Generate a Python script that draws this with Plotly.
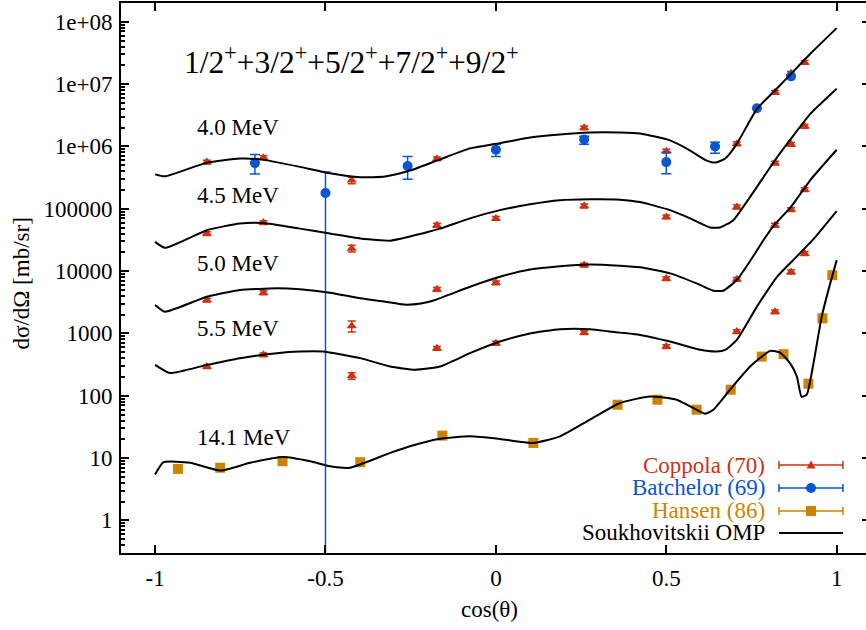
import math
import plotly.graph_objects as go

# ---------------- data ----------------
# Soukhovitskii OMP curves (scaled per energy)
c40_x = [-1.0, -0.971, -0.848, -0.751, -0.69, -0.575, -0.487, -0.398, -0.325, -0.252, -0.164, -0.076, 0.012, 0.10,
         0.188, 0.276, 0.364, 0.423, 0.511, 0.57, 0.614, 0.643, 0.673, 0.707, 0.766, 0.819, 0.866, 0.922, 1.0]
c40_y = [3.56e5, 3.31e5, 5.5e5, 6.4e5, 6.2e5, 4.7e5, 3.7e5, 3.2e5, 3.3e5, 4.1e5, 6.2e5, 9.3e5, 1.13e6, 1.39e6,
         1.56e6, 1.67e6, 1.67e6, 1.61e6, 1.25e6, 8.6e5, 6.1e5, 5.5e5, 6.4e5, 1.10e6, 4.0e6, 7.9e6, 1.46e7, 3.04e7, 7.9e7]

c45_x = [-1.0, -0.971, -0.848, -0.751, -0.683, -0.575, -0.487, -0.398, -0.34, -0.31, -0.252, -0.2, -0.164, -0.076,
         0.012, 0.10, 0.188, 0.276, 0.364, 0.423, 0.511, 0.57, 0.628, 0.657, 0.696, 0.746, 0.819, 0.866, 0.922, 1.0]
c45_y = [2.94e4, 2.36e4, 4.53e4, 5.8e4, 5.9e4, 4.8e4, 4.0e4, 3.33e4, 3.13e4, 3.08e4, 3.6e4, 4.24e4, 4.8e4, 7.0e4,
         9.5e4, 1.18e5, 1.37e5, 1.42e5, 1.40e5, 1.28e5, 9.5e4, 7.0e4, 5.0e4, 5.0e4, 6.5e4, 1.55e5, 6.0e5, 1.33e6,
         3.3e6, 8.4e6]

c50_x = [-1.0, -0.971, -0.848, -0.751, -0.643, -0.575, -0.487, -0.398, -0.325, -0.27, -0.22, -0.178, -0.076, 0.012,
         0.10, 0.188, 0.276, 0.364, 0.423, 0.511, 0.589, 0.638, 0.667, 0.707, 0.746, 0.785, 0.819, 0.866, 0.922, 1.0]
c50_y = [2.86e3, 2.23e3, 3.88e3, 4.97e3, 5.28e3, 5.1e3, 4.5e3, 3.66e3, 3.23e3, 2.9e3, 3.02e3, 3.44e3, 5.6e3, 8.1e3,
         1.06e4, 1.2e4, 1.28e4, 1.22e4, 1.15e4, 9.2e3, 6.35e3, 4.84e3, 4.84e3, 7.2e3, 1.45e4, 3.13e4, 5.65e4, 1.07e5,
         2.86e5, 8.85e5]

c55_x = [-1.0, -0.956, -0.848, -0.751, -0.643, -0.575, -0.508, -0.398, -0.31, -0.237, -0.164, -0.076, 0.012, 0.10,
         0.188, 0.276, 0.364, 0.423, 0.511, 0.599, 0.648, 0.673, 0.707, 0.766, 0.825, 0.884, 0.929, 1.0]
c55_y = [313, 231, 313, 401, 482, 512, 512, 401, 294, 261, 294, 482, 740, 1.0e3,
         1.17e3, 1.17e3, 1.03e3, 946, 740, 545, 512, 545, 787, 2.69e3, 8.1e3, 1.74e4, 3.13e4, 9.2e4]

c141_x = [-1.0, -0.975, -0.897, -0.809, -0.721, -0.624, -0.545, -0.487, -0.428, -0.31, -0.252, -0.164, -0.076, 0.012,
          0.109, 0.188, 0.276, 0.364, 0.452, 0.531, 0.614, 0.638, 0.687, 0.746, 0.805, 0.834, 0.863, 0.883, 0.897,
          0.912, 0.932, 0.956, 0.981, 1.0]
c141_y = [5.45, 8.6, 8.4, 6.3, 8.4, 10.4, 8.9, 7.4, 7.0, 12.1, 15.5, 20.5, 22.3, 20.3,
          17.5, 22.3, 41.3, 76.4, 97.5, 86.3, 51.5, 59.7, 125, 294, 525, 493, 334, 204, 96.4,
          104, 334, 1.86e3, 6.35e3, 1.5e4]

# Coppola (70) data
cop_x_40 = [-0.848, -0.682, -0.423, -0.173, 0.259, 0.5, 0.707, 0.819, 0.866, 0.906]
cop_y_40 = [5.6e5, 6.6e5, 2.86e5, 6.35e5, 1.99e6, 8.4e5, 1.1e6, 7.4e6, 1.49e7, 2.23e7]
cop_x = [-0.848, -0.682, -0.423, -0.173, 0.0, 0.259, 0.5, 0.707, 0.819, 0.866, 0.906]
cop_y_45 = [4.0e4, 6.0e4, 2.31e4, 5.45e4, 7.0e4, 1.11e5, 7.4e4, 1.07e5, 5.4e5, 1.08e6, 2.1e6]
cop_y_50 = [3.44e3, 4.5e3, 1.32e3, 5.1e3, 6.5e3, 1.25e4, 7.6e3, 7.4e3, 5.45e4, 9.7e4, 2.03e5]
cop_y_55 = [294, 453, 209, 579, 697, 1.03e3, 615, 1.07e3, 2.23e3, 9.7e3, 1.92e4]
cop_relerr_40 = [0.07, 0.07, 0.12, 0.07, 0.07, 0.07, 0.07, 0.07, 0.07, 0.07]
cop_relerr_45 = [0.07, 0.07, 0.12, 0.07, 0.07, 0.07, 0.07, 0.07, 0.07, 0.07, 0.07]
cop_relerr_50 = [0.07, 0.07, 0.20, 0.07, 0.07, 0.07, 0.07, 0.07, 0.07, 0.07, 0.07]
cop_relerr_55 = [0.07, 0.07, 0.12, 0.07, 0.07, 0.07, 0.07, 0.07, 0.07, 0.07, 0.07]

# Batchelor (69) data (4.0 MeV)
bat_x = [-0.707, -0.5, -0.259, 0.0, 0.259, 0.5, 0.643, 0.766, 0.866]
bat_y = [5.4e5, 1.79e5, 4.84e5, 8.85e5, 1.29e6, 5.6e5, 1.0e6, 4.1e6, 1.33e7]
bat_up = [2.0e5, 2.1e5, 2.06e5, 1.95e5, 1.7e5, 2.5e5, 1.7e5, 0, 0]
bat_dn = [1.8e5, 2.1e5, 1.87e5, 1.95e5, 2.1e5, 1.95e5, 2.2e5, 0, 0]

# Hansen (86) data (14.1 MeV)
han_x = [-0.933, -0.809, -0.626, -0.398, -0.157, 0.11, 0.357, 0.474, 0.589, 0.689, 0.78, 0.844, 0.917, 0.958, 0.987]
han_y = [6.7, 7.0, 8.9, 8.6, 22.9, 17.5, 71.8, 86.3, 59.7, 125, 425, 465, 156, 1.75e3, 8.6e3]

energy_labels = ["4.0 MeV", "4.5 MeV", "5.0 MeV", "5.5 MeV", "14.1 MeV"]
energy_label_y = [2.0e6, 1.64e5, 1.34e4, 1.18e3, 21.3]

x_ticks = [-1, -0.5, 0, 0.5, 1]
x_ticktext = ["-1", "-0.5", "0", "0.5", "1"]
y_ticks = [1, 10, 100, 1000, 1e4, 1e5, 1e6, 1e7, 1e8]
y_ticktext = ["1", "10", "100", "1000", "10000", "100000", "1e+06", "1e+07", "1e+08"]

legend_names = ["Coppola (70)", "Batchelor (69)", "Hansen (86)", "Soukhovitskii OMP"]

# ---------------- styles ----------------
RED = "#cc3311"
BLUE = "#0a55d0"
ORANGE = "#cc8400"
FONT = "'Liberation Serif', 'Times New Roman', Times, 'DejaVu Serif', serif"

fig = go.Figure()

cx = cop_x_40 + cop_x + cop_x + cop_x
cy = cop_y_40 + cop_y_45 + cop_y_50 + cop_y_55
cr = cop_relerr_40 + cop_relerr_45 + cop_relerr_50 + cop_relerr_55
fig.add_trace(go.Scatter(
    x=cx, y=cy, mode="markers",
    marker=dict(symbol="triangle-up", size=9, color=RED),
    error_y=dict(type="data", array=[v * r for v, r in zip(cy, cr)], color=RED, thickness=1.5, width=4),
    showlegend=False))

fig.add_trace(go.Scatter(
    x=bat_x, y=bat_y, mode="markers",
    marker=dict(symbol="circle", size=10, color=BLUE),
    error_y=dict(type="data", array=bat_up, arrayminus=bat_dn, symmetric=False, color=BLUE, thickness=1.5, width=5),
    showlegend=False))

fig.add_trace(go.Scatter(
    x=han_x, y=han_y, mode="markers",
    marker=dict(symbol="square", size=10, color=ORANGE),
    error_y=dict(type="percent", value=5, color=ORANGE, thickness=1.5, width=4),
    showlegend=False))

for xs, ys in [(c40_x, c40_y), (c45_x, c45_y), (c50_x, c50_y), (c55_x, c55_y), (c141_x, c141_y)]:
    fig.add_trace(go.Scatter(x=xs, y=ys, mode="lines",
                             line=dict(color="black", width=2, shape="spline", smoothing=0.5),
                             showlegend=False))

# dummy trace for right axis ticks
fig.add_trace(go.Scatter(x=[0], y=[1], yaxis="y2", mode="markers", marker=dict(opacity=0),
                         showlegend=False, hoverinfo="skip"))

annotations = []
for lab, yv in zip(energy_labels, energy_label_y):
    annotations.append(dict(x=-0.883, y=math.log10(yv), xref="x", yref="y", text=lab, showarrow=False,
                            xanchor="left", yanchor="middle", font=dict(family=FONT, size=23, color="black")))

annotations.append(dict(x=-0.92, y=0.897, xref="x", yref="paper",
                        text="1/2<sup>+</sup>+3/2<sup>+</sup>+5/2<sup>+</sup>+7/2<sup>+</sup>+9/2<sup>+</sup>",
                        showarrow=False, xanchor="left", yanchor="middle",
                        font=dict(family=FONT, size=31.5, color="black")))

annotations.append(dict(x=-0.1342, y=0.49, xref="paper", yref="paper", text="dσ/dΩ [mb/sr]", textangle=-90,
                        showarrow=False, xanchor="center", yanchor="middle",
                        font=dict(family=FONT, size=23, color="black")))
annotations.append(dict(x=0.495, y=-0.1036, xref="paper", yref="paper", text="cos(θ)",
                        showarrow=False, xanchor="center", yanchor="middle",
                        font=dict(family=FONT, size=23, color="black")))

# custom gnuplot-style legend
leg_y = [0.16, 0.1182, 0.0764, 0.0364]
leg_col = [RED, BLUE, ORANGE, "black"]
shapes = []
for name, yp, col in zip(legend_names, leg_y, leg_col):
    annotations.append(dict(x=0.8665, y=yp, xref="paper", yref="paper", text=name, showarrow=False,
                            xanchor="right", yanchor="middle", font=dict(family=FONT, size=23, color=col)))
    shapes.append(dict(type="line", xref="paper", yref="paper", x0=0.8832, x1=0.9691, y0=yp, y1=yp,
                       line=dict(color=col, width=1.5 if col != "black" else 2)))
    if col != "black":
        for xc in (0.8832, 0.9691):
            shapes.append(dict(type="line", xref="paper", yref="paper", xsizemode="scaled", ysizemode="pixel",
                               x0=xc, x1=xc, yanchor=yp, y0=-4, y1=4, line=dict(color=col, width=1.5)))
# legend markers
shapes.append(dict(type="path", xref="paper", yref="paper", xsizemode="pixel", ysizemode="pixel",
                   xanchor=0.9262, yanchor=leg_y[0], path="M -4.5,-3.5 L 4.5,-3.5 L 0,4.5 Z",
                   fillcolor=RED, line=dict(width=0)))
shapes.append(dict(type="circle", xref="paper", yref="paper", xsizemode="pixel", ysizemode="pixel",
                   xanchor=0.9262, yanchor=leg_y[1], x0=-5, x1=5, y0=-5, y1=5,
                   fillcolor=BLUE, line=dict(width=0)))
shapes.append(dict(type="rect", xref="paper", yref="paper", xsizemode="pixel", ysizemode="pixel",
                   xanchor=0.9262, yanchor=leg_y[2], x0=-5, x1=5, y0=-5, y1=5,
                   fillcolor=ORANGE, line=dict(width=0)))

minor_vals = [k * 10 ** n for n in range(-1, 9) for k in range(2, 10)]
minor_vals = [v for v in minor_vals if 0.3 <= v <= 2e8]

yr = [math.log10(0.3), math.log10(2e8)]

fig.update_layout(
    width=866, height=630,
    margin=dict(l=121, r=0, t=3, b=77),
    paper_bgcolor="white", plot_bgcolor="white",
    font=dict(family=FONT, size=23, color="black"),
    showlegend=False,
    xaxis=dict(range=[-1.1, 1.086], showline=True, linecolor="black", linewidth=2, mirror="ticks",
               ticks="inside", ticklen=8, tickwidth=1.5, tickcolor="black",
               tickvals=x_ticks, ticktext=x_ticktext, tickfont=dict(family=FONT, size=23),
               showgrid=False, zeroline=False, ticklabelstandoff=3, automargin=False),
    yaxis=dict(type="log", range=yr, showline=True, linecolor="black", linewidth=2, mirror=False,
               ticks="inside", ticklen=8, tickwidth=1.5, tickcolor="black",
               tickvals=y_ticks, ticktext=y_ticktext, tickfont=dict(family=FONT, size=23),
               minor=dict(ticks="inside", ticklen=4, tickwidth=1.5, tickcolor="black", tickvals=minor_vals,
                          showgrid=False),
               showgrid=False, zeroline=False, ticklabelstandoff=2, automargin=False),
    yaxis2=dict(type="log", range=yr, overlaying="y", side="right", showline=False,
                ticks="inside", ticklen=4, tickwidth=1.5, tickcolor="black", automargin=False,
                tickvals=y_ticks, showticklabels=False, showgrid=False, zeroline=False),
    annotations=annotations,
    shapes=shapes,
)

fig.write_html("out.html", config={"displayModeBar": False},
               post_script="document.body.style.margin='0';document.body.style.padding='0';")
